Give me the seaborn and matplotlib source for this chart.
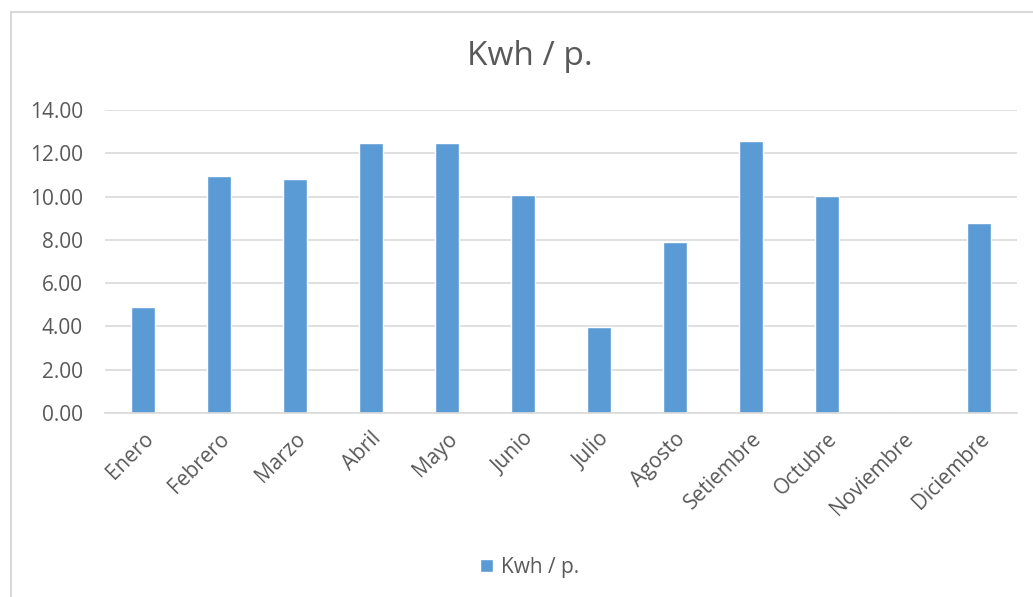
import matplotlib.pyplot as plt
import pandas as pd
import seaborn as sns
from matplotlib.patches import Rectangle
from matplotlib.ticker import FormatStrFormatter

months = ["Enero", "Febrero", "Marzo", "Abril", "Mayo", "Junio", "Julio",
          "Agosto", "Setiembre", "Octubre", "Noviembre", "Diciembre"]
kwh = [4.92, 10.95, 10.82, 12.46, 12.48, 10.08, 3.99, 7.91, 12.56, 10.03, 0.0, 8.79]
y_ticks = [0, 2, 4, 6, 8, 10, 12, 14]

BLUE = "#5B9BD5"
GREY = "#595959"
GRID = "#D9D9D9"

sns.set_theme(style="white")
plt.rcParams["font.family"] = ["Open Sans", "DejaVu Sans"]

df = pd.DataFrame({"mes": months, "kwh": kwh})

fig = plt.figure(figsize=(10.33, 5.97), dpi=100)
ax = fig.add_axes([0.1016, 0.3082, 0.883, 0.5075])

sns.barplot(data=df, x="mes", y="kwh", color=BLUE, width=0.31, saturation=1,
            label="Kwh / p.", ax=ax)

ax.set_ylim(0, 14)
ax.set_yticks(y_ticks)
ax.yaxis.set_major_formatter(FormatStrFormatter("%.2f"))
ax.grid(axis="y", color=GRID, linewidth=1.2)
ax.set_axisbelow(True)
for side in ["top", "right", "left"]:
    ax.spines[side].set_visible(False)
ax.spines["bottom"].set_color(GRID)
ax.spines["bottom"].set_linewidth(1.2)
ax.tick_params(axis="both", length=0, colors=GREY, labelsize=15)
ax.tick_params(axis="y", pad=16)
ax.tick_params(axis="x", pad=11)
plt.setp(ax.get_xticklabels(), rotation=45, ha="right", rotation_mode="anchor")
ax.set_xlabel("")
ax.set_ylabel("")

fig.text(0.513, 0.905, "Kwh / p.", ha="center", va="center", fontsize=24, color=GREY)

ax.legend(loc="center", bbox_to_anchor=(0.513, 0.05), bbox_transform=fig.transFigure,
          frameon=False, fontsize=15, labelcolor=GREY, handlelength=0.6,
          handleheight=0.6, handletextpad=0.4)

# chart-area frame, cropped at right and bottom like the screenshot
fig.patches.append(Rectangle((11 / 1033, -0.1), 1.2, 1.1 - 12 / 597,
                             transform=fig.transFigure, fill=False,
                             edgecolor=GRID, linewidth=1.5))

fig.savefig("out.png", dpi=100)
